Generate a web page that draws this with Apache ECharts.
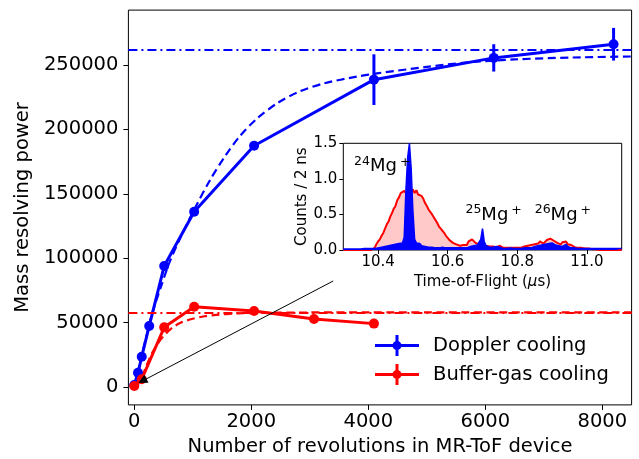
<!DOCTYPE html>
<html>
<head>
<meta charset="utf-8">
<script src="https://cdn.jsdelivr.net/npm/echarts@6.0.0/dist/echarts.min.js"></script>
<style>
  html, body { margin: 0; padding: 0; background: #fff; }
  #chart { width: 639px; height: 459px; }
</style>
</head>
<body>
<div id="chart"></div>
<script>
// Mass resolving power vs. number of revolutions
const revDoppler = [0, 64, 128, 256, 512, 1024, 2048, 4096, 6144, 8192];
const rpDoppler  = [1500, 11000, 23500, 47400, 93900, 136100, 187300, 238600, 255500, 266100];
const errDoppler = [0, 0, 0, 0, 0, 0, 0, 19700, 10600, 12700];

const revBuffer = [0, 128, 512, 1024, 2048, 3072, 4096];
const rpBuffer  = [800, 6000, 46300, 62300, 59000, 52800, 49200];
const errBuffer = [0, 0, 0, 0, 0, 0, 0];

// Model curves (dashed)
const fitRevDoppler = [0, 100, 200, 300, 450, 600, 800, 1050, 1300, 1550, 1800, 2100, 2450, 2800, 3250, 3800, 4150, 5000, 5650, 6500, 7500, 8500];
const fitRpDoppler  = [800, 19000, 38000, 56000, 77000, 96500, 117000, 140000, 161000, 179000, 194500, 208500, 220500, 229000, 235800, 240900, 243500, 248500, 251800, 254300, 255800, 256600];
const fitRevBuffer = [0, 100, 200, 300, 400, 500, 650, 800, 1000, 1200, 1400, 1750, 2200, 3000, 4000, 8500];
const fitRpBuffer  = [500, 5000, 15500, 26000, 33500, 39500, 46000, 50000, 53000, 54900, 56000, 57100, 57600, 57850, 57950, 58000];

// Asymptotic limits (dash-dot)
const limitDoppler = 261600;
const limitBuffer = 58000;

// Axis ticks
const xTicks = [0, 2000, 4000, 6000, 8000];
const yTicks = [0, 50000, 100000, 150000, 200000, 250000];

// Inset: time-of-flight spectra, 5 ns bins from 10.300 us
const tofStart = 10.300;
const tofStep = 0.005;
const countsBuffer = [
  0, 0, 0, 0, 0, 0, 0, 0, 0, 0,
  0, 0, 0, 0, 0, 0, 0, 0, 0.03, 0.08,
  0.12, 0.15, 0.20, 0.24, 0.30, 0.36, 0.40, 0.47, 0.52, 0.58,
  0.62, 0.70, 0.74, 0.80, 0.78, 0.83, 0.80, 0.84, 0.86, 0.82,
  0.85, 0.80, 0.84, 0.78, 0.80, 0.76, 0.72, 0.66, 0.62, 0.57,
  0.55, 0.50, 0.46, 0.42, 0.38, 0.33, 0.30, 0.27, 0.24, 0.20,
  0.17, 0.14, 0.12, 0.10, 0.10, 0.08, 0.08, 0.06, 0.08, 0.07,
  0.09, 0.07, 0.12, 0.10, 0.15, 0.13, 0.10, 0.12, 0.08, 0.10,
  0.09, 0.08, 0.06, 0.07, 0.05, 0.07, 0.05, 0.06, 0.04, 0.05,
  0.06, 0.04, 0.03, 0.04, 0.03, 0.02, 0.03, 0.02, 0.03, 0.02,
  0.03, 0.04, 0.03, 0.04, 0.05, 0.04, 0.06, 0.05, 0.07, 0.09,
  0.08, 0.10, 0.09, 0.12, 0.10, 0.09, 0.11, 0.14, 0.13, 0.16,
  0.15, 0.13, 0.14, 0.10, 0.12, 0.08, 0.11, 0.09, 0.12, 0.08,
  0.06, 0.07, 0.05, 0.04, 0.05, 0.03, 0.04, 0.03, 0.04, 0.02,
  0.03, 0.02, 0.03, 0.01, 0.02, 0.01, 0.02, 0, 0, 0,
  0, 0, 0, 0, 0, 0, 0, 0, 0, 0,
  0
];
const countsDoppler = [
  0.015, 0.015, 0.015, 0.015, 0.015, 0.015, 0.015, 0.015, 0.015, 0.015,
  0.015, 0.015, 0.02, 0.015, 0.02, 0.015, 0.02, 0.015, 0.02, 0.02,
  0.03, 0.02, 0.04, 0.03, 0.05, 0.04, 0.06, 0.05, 0.07, 0.06,
  0.08, 0.06, 0.09, 0.08, 0.10, 0.18, 0.85, 1.30, 1.50, 1.15,
  0.55, 0.15, 0.10, 0.08, 0.09, 0.06, 0.08, 0.05, 0.07, 0.04,
  0.05, 0.04, 0.05, 0.03, 0.04, 0.03, 0.03, 0.04, 0.02, 0.03,
  0.02, 0.03, 0.02, 0.03, 0.02, 0.03, 0.02, 0.03, 0.02, 0.03,
  0.02, 0.03, 0.04, 0.05, 0.04, 0.06, 0.05, 0.07, 0.09, 0.15,
  0.30, 0.12, 0.06, 0.05, 0.04, 0.03, 0.04, 0.03, 0.05, 0.06,
  0.04, 0.03, 0.02, 0.03, 0.02, 0.02, 0.03, 0.02, 0.02, 0.03,
  0.02, 0.03, 0.02, 0.02, 0.03, 0.02, 0.03, 0.02, 0.03, 0.04,
  0.05, 0.04, 0.06, 0.05, 0.07, 0.06, 0.08, 0.07, 0.09, 0.08,
  0.10, 0.08, 0.07, 0.09, 0.06, 0.07, 0.05, 0.06, 0.08, 0.05,
  0.04, 0.03, 0.04, 0.03, 0.02, 0.02, 0.02, 0.02, 0.02, 0.02,
  0.02, 0.02, 0.02, 0.02, 0.02, 0.02, 0.02, 0.02, 0.02, 0.02,
  0.02, 0.02, 0.02, 0.02, 0.02, 0.02, 0.02, 0.02, 0.02, 0.02,
  0.02
];
const tofTicks = [10.4, 10.6, 10.8, 11.0];
const countTicks = [0, 0.5, 1.0, 1.5];

// Isotope annotations: mass number, time-of-flight, counts (text anchor)
const isotopeMass = [24, 25, 26];
const isotopeTof = [10.331, 10.651, 10.850];
const isotopeCounts = [1.17, 0.49, 0.49];

// Arrow from the inset to the first data points
const arrowFrom = [3400, 82300];
const arrowTo = [140, 4700];

const FONT = 'DejaVu Sans';
const BLUE = '#0000ff';
const RED = '#ff0000';

const pairs = (xs, ys) => xs.map((x, i) => [x, ys[i]]);
const tofTimes = countsBuffer.map((_, i) => +(tofStart + i * tofStep).toFixed(3));

function errorBars(name, xs, ys, errs, color, z) {
  return {
    name: name,
    type: 'custom',
    xAxisIndex: 0, yAxisIndex: 0,
    z: z, silent: true,
    itemStyle: { color: color },
    data: xs.map((x, i) => [x, ys[i] - errs[i], ys[i] + errs[i]]),
    encode: { x: 0, y: [1, 2] },
    renderItem: function (params, api) {
      const lo = api.coord([api.value(0), api.value(1)]);
      const hi = api.coord([api.value(0), api.value(2)]);
      return {
        type: 'line',
        shape: { x1: lo[0], y1: lo[1], x2: hi[0], y2: hi[1] },
        style: { stroke: color, lineWidth: 3 }
      };
    }
  };
}

function limitLine(value, color) {
  return {
    silent: true, symbol: 'none',
    label: { show: false },
    lineStyle: { color: color, width: 2, type: [9, 4, 2, 4] },
    data: [{ yAxis: value }]
  };
}

// legend glyph: line + vertical error bar + dot, with blank space to the right
const legendGlyph = 'path://M0,9L44,9L44,12L0,12Z M20.5,0L23.5,0L23.5,21L20.5,21Z M22,6A4.5,4.5,0,1,1,21.99,6Z M53,10.5L53,10.5Z';

const axisText = { fontFamily: FONT, color: '#000' };

const option = {
  animation: false,
  backgroundColor: '#fff',
  grid: [
    { left: 128.4, top: 10.1, width: 503.2, height: 394.8, show: true, borderColor: '#000', borderWidth: 1, backgroundColor: 'transparent', outerBoundsMode: 'none', containLabel: false },
    { left: 343.3, top: 143.3, width: 278.4, height: 106.7, show: true, borderColor: '#000', borderWidth: 1, backgroundColor: '#fff', outerBoundsMode: 'none', containLabel: false, z: 5 }
  ],
  xAxis: [
    {
      gridIndex: 0, type: 'value', min: -100, max: 8500,
      name: 'Number of revolutions in MR-ToF device',
      nameLocation: 'middle', nameGap: 31,
      nameTextStyle: Object.assign({ fontSize: 19.5 }, axisText),
      axisLine: { show: false, onZero: false },
      axisTick: { show: true, length: 5, customValues: xTicks, lineStyle: { color: '#000', width: 1 } },
      axisLabel: Object.assign({ fontSize: 19.5, margin: 7, customValues: xTicks, formatter: v => v.toFixed(0) }, axisText),
      splitLine: { show: false }
    },
    {
      gridIndex: 1, type: 'value', min: 10.3, max: 11.1,
      name: '{n|Time-of-Flight (}{i|μ}{n|s)}',
      nameLocation: 'middle', nameGap: 25,
      nameTextStyle: {
        fontSize: 15, fontFamily: FONT, color: '#000',
        rich: { n: { fontSize: 15, fontFamily: FONT, color: '#000' }, i: { fontSize: 15, fontFamily: FONT, color: '#000', fontStyle: 'italic' } }
      },
      axisLine: { show: false, onZero: false },
      axisTick: { show: true, length: 4, customValues: tofTicks, lineStyle: { color: '#000', width: 1 } },
      axisLabel: Object.assign({ fontSize: 15, margin: 5, customValues: tofTicks, formatter: v => v.toFixed(1) }, axisText),
      splitLine: { show: false }
    }
  ],
  yAxis: [
    {
      gridIndex: 0, type: 'value', min: -13900, max: 292600,
      name: 'Mass resolving power',
      nameLocation: 'middle', nameGap: 92,
      nameTextStyle: Object.assign({ fontSize: 19.5 }, axisText),
      axisLine: { show: false, onZero: false },
      axisTick: { show: true, length: 5, customValues: yTicks, lineStyle: { color: '#000', width: 1 } },
      axisLabel: Object.assign({ fontSize: 19.5, margin: 10, customValues: yTicks, formatter: v => v.toFixed(0) }, axisText),
      splitLine: { show: false }
    },
    {
      gridIndex: 1, type: 'value', min: 0, max: 1.5, interval: 0.5,
      name: 'Counts / 2 ns',
      nameLocation: 'middle', nameGap: 34,
      nameTextStyle: { fontSize: 15, fontFamily: FONT, color: '#000' },
      axisLine: { show: false, onZero: false },
      axisTick: { show: true, length: 4, customValues: countTicks, lineStyle: { color: '#000', width: 1 } },
      axisLabel: Object.assign({ fontSize: 15, margin: 6, customValues: countTicks, formatter: v => v.toFixed(1) }, axisText),
      splitLine: { show: false }
    }
  ],
  legend: {
    left: 375, top: 335, orient: 'vertical',
    itemWidth: 53, itemHeight: 21, itemGap: 8, padding: 0,
    selectedMode: false,
    textStyle: { fontSize: 19.5, fontFamily: FONT, color: '#000' },
    data: [
      { name: 'Doppler cooling', icon: legendGlyph },
      { name: 'Buffer-gas cooling', icon: legendGlyph }
    ]
  },
  series: [
    // fitted model curves
    {
      type: 'line', xAxisIndex: 0, yAxisIndex: 0, z: 2,
      data: pairs(fitRevDoppler, fitRpDoppler), smooth: 0.3,
      showSymbol: false, silent: true,
      lineStyle: { color: BLUE, width: 2.2, type: [8, 4.5] },
      markLine: limitLine(limitDoppler, BLUE)
    },
    {
      type: 'line', xAxisIndex: 0, yAxisIndex: 0, z: 2,
      data: pairs(fitRevBuffer, fitRpBuffer), smooth: 0.3,
      showSymbol: false, silent: true,
      lineStyle: { color: RED, width: 2.2, type: [8, 4.5] },
      markLine: limitLine(limitBuffer, RED)
    },
    // measurements
    errorBars('Doppler cooling', revDoppler, rpDoppler, errDoppler, BLUE, 3),
    {
      type: 'line', xAxisIndex: 0, yAxisIndex: 0, z: 3,
      data: pairs(revDoppler, rpDoppler),
      symbol: 'circle', symbolSize: 10, silent: true,
      itemStyle: { color: BLUE },
      lineStyle: { color: BLUE, width: 3 }
    },
    errorBars('Buffer-gas cooling', revBuffer, rpBuffer, errBuffer, RED, 4),
    {
      type: 'line', xAxisIndex: 0, yAxisIndex: 0, z: 4,
      data: pairs(revBuffer, rpBuffer),
      symbol: 'circle', symbolSize: 10, silent: true,
      itemStyle: { color: RED },
      lineStyle: { color: RED, width: 3 }
    },
    // annotation arrow, drawn above the markers
    {
      type: 'line', xAxisIndex: 0, yAxisIndex: 0, z: 5,
      data: [], silent: true,
      markLine: {
        silent: true,
        symbol: ['none', 'triangle'], symbolSize: 9,
        label: { show: false },
        lineStyle: { color: '#000', width: 1, type: 'solid' },
        itemStyle: { color: '#000' },
        data: [[{ coord: arrowFrom }, { coord: arrowTo }]]
      }
    },
    // inset spectra
    {
      type: 'line', xAxisIndex: 1, yAxisIndex: 1, z: 6,
      data: pairs(tofTimes, countsBuffer),
      showSymbol: false, silent: true,
      lineStyle: { color: RED, width: 2 },
      areaStyle: { color: 'rgba(255,0,0,0.3)', origin: 'start' }
    },
    {
      type: 'line', xAxisIndex: 1, yAxisIndex: 1, z: 7,
      data: pairs(tofTimes, countsDoppler),
      showSymbol: false, silent: true,
      lineStyle: { color: BLUE, width: 1.5 },
      areaStyle: { color: BLUE, opacity: 1, origin: 'start' }
    },
    {
      type: 'scatter', xAxisIndex: 1, yAxisIndex: 1, z: 8,
      symbolSize: 0, silent: true,
      itemStyle: { opacity: 1 },
      data: isotopeMass.map((m, i) => [isotopeTof[i], isotopeCounts[i], m]),
      label: {
        show: true, position: 'right', distance: 0, opacity: 1, color: '#000',
        formatter: p => '{m|' + p.value[2] + '}{b|Mg}{p|+}',
        rich: {
          m: { fontSize: 12.5, fontFamily: FONT, color: '#000', verticalAlign: 'top', lineHeight: 24, padding: [0, 0, 8, 0] },
          b: { fontSize: 18, fontFamily: FONT, color: '#000', lineHeight: 24 },
          p: { fontSize: 12.5, fontFamily: FONT, color: '#000', lineHeight: 24, padding: [0, 0, 8, 3] }
        }
      }
    }
  ]
};

const chart = echarts.init(document.getElementById('chart'), null, { renderer: 'canvas' });
chart.setOption(option);
</script>
</body>
</html>
